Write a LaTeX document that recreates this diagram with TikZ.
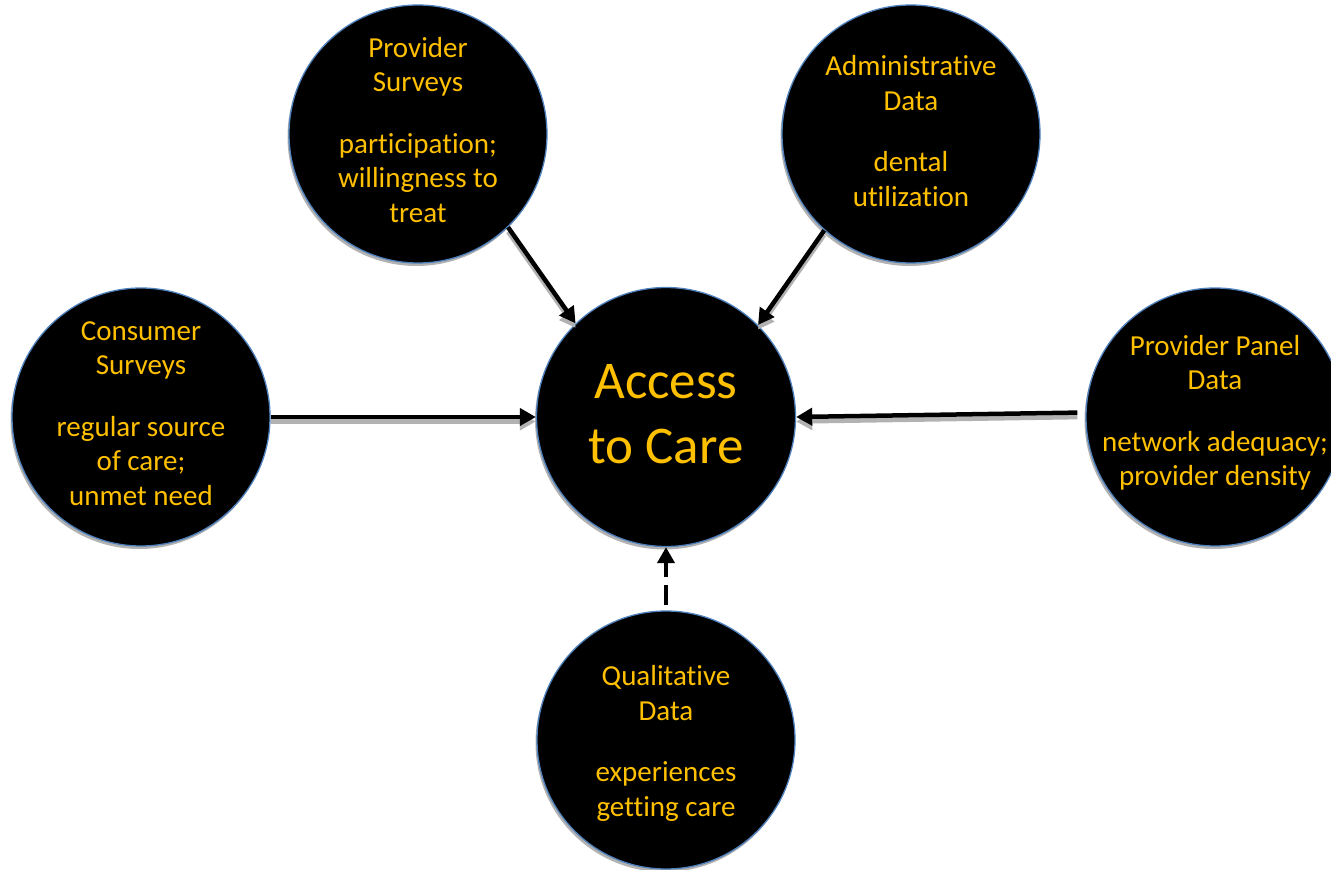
\documentclass[tikz,border=0pt]{standalone}
\usepackage{fontspec}
\setmainfont{Carlito}[Ligatures=NoCommon, RawFeature={-liga;-clig;-dlig;-calt}]
\usetikzlibrary{arrows.meta,shadows}
\definecolor{gold}{HTML}{FFC000}
\definecolor{rim}{HTML}{4F81BD}
\tikzset{
  src/.style={circle, fill=black, draw=rim, line width=1.3pt, minimum size=258pt,
    inner sep=0pt,
    drop shadow={shadow xshift=-1.5pt, shadow yshift=-3pt, fill=gray!60, opacity=1}},
  hub/.style={src, minimum size=259pt},
  lbl/.style={text=gold, align=center, inner sep=0pt, font=\fontsize{29}{34.5}\selectfont},
  hublbl/.style={lbl, font=\fontsize{53}{65}\selectfont},
  link/.style={line width=4.5pt, -{Triangle[length=16pt,width=17pt]}},
  linkshadow/.style={link, draw=gray!60, fill=gray!60, transform canvas={yshift=-4.5pt}}
}
\begin{document}
\begin{tikzpicture}[x=1pt,y=-1pt]
\useasboundingbox (0,0) rectangle (1331,870);
\node[hub] (acc) at (666,417) {};
\node[src] (ps) at (418,134) {};
\node[src] (ad) at (911,134) {};
\node[src] (cs) at (141,417) {};
\node[src] (pp) at (1215,417) {};
\node[src] (qd) at (666,740) {};

\node[hublbl] (accT) at ([yshift=3pt]acc.center) {Access\\to Care};
\node[lbl] (psT) at ([yshift=4pt]ps.center) {Provider\\Surveys\\[27pt]participation;\\willingness to\\treat};
\node[lbl] (adT) at ([yshift=3pt]ad.center) {Administrative\\Data\\[27pt]dental\\utilization};
\node[lbl] (csT) at ([yshift=3.5pt]cs.center) {Consumer\\Surveys\\[27pt]regular source\\of care;\\unmet need};
\node[lbl] (ppT) at ([yshift=4pt]pp.center) {Provider Panel\\Data\\[27pt]network adequacy;\\provider density};
\node[lbl] (qdT) at ([yshift=-3.5pt]qd.center) {Qualitative\\Data\\[27pt]experiences\\getting care};

\draw[linkshadow] (ps.-46) -- (acc.134);
\draw[link] (ps.-46) -- (acc.134);
\draw[linkshadow] (ad.-132) -- (acc.45);
\draw[link] (ad.-132) -- (acc.45);
\draw[linkshadow] (cs.0) -- (acc.180);
\draw[link] (cs.0) -- (acc.180);
\draw[linkshadow, shorten <=8pt] (pp.178) -- (acc.0);
\draw[link, shorten <=8pt] (pp.178) -- (acc.0);
\draw[link, dash pattern=on 20pt off 8pt, shorten <=5pt] (qd.90) -- (acc.270);
\end{tikzpicture}
\end{document}
